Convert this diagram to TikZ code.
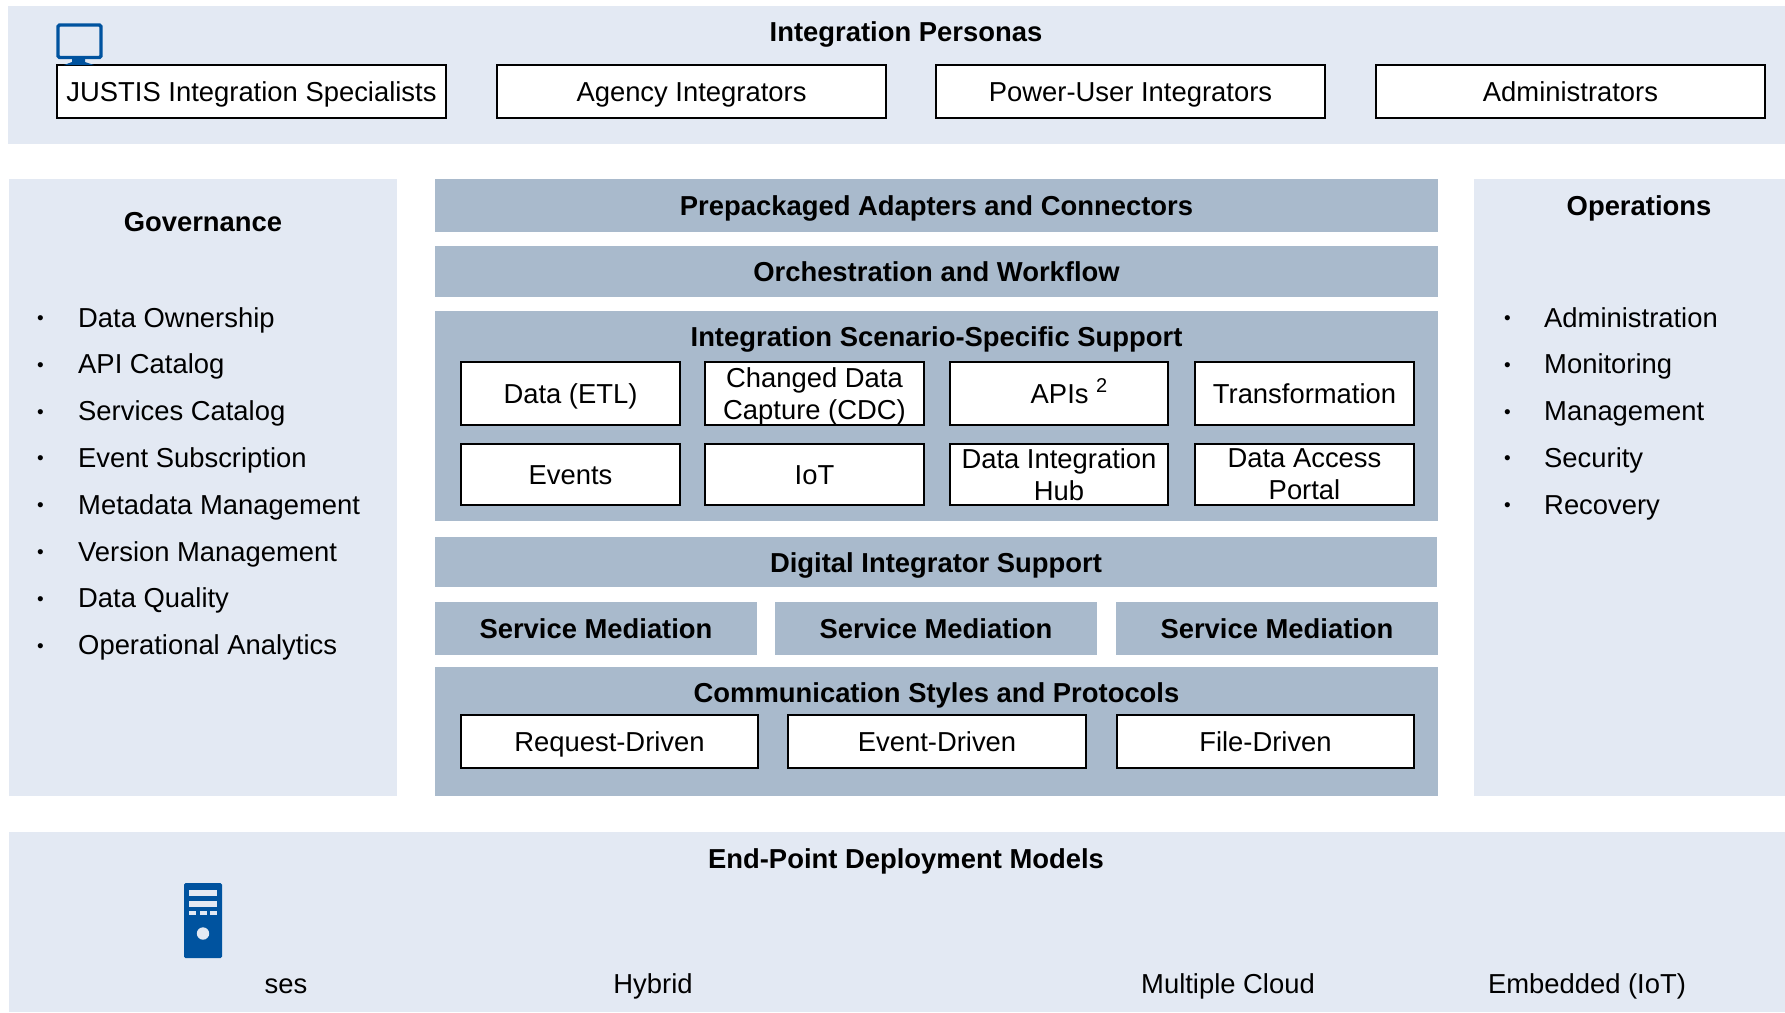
\documentclass[tikz,border=0pt]{standalone}
\usepackage{fontspec}
\setmainfont{Liberation Sans}
\definecolor{bandblue}{HTML}{E3E9F3}
\definecolor{layerblue}{HTML}{A9BACC}
\definecolor{iconblue}{HTML}{00539F}
\newcommand{\labelfont}{\fontsize{27.4}{32}\selectfont}
\tikzset{
  oneline/.style={text height=20pt,text depth=0pt},
  panel/.style={fill=bandblue,draw=none,anchor=north west,inner sep=0,outer sep=0},
  layer/.style={fill=layerblue,draw=none,anchor=north west,inner sep=0,outer sep=0,oneline,font=\labelfont\bfseries},
  itembox/.style={fill=white,draw=black,line width=1.1pt,anchor=north west,inner sep=0,outer sep=0,align=center,text depth=0pt,font=\labelfont},
  heading/.style={oneline,font=\labelfont\bfseries},
  listitem/.style={anchor=west,inner sep=0,oneline,font=\labelfont},
  dot/.style={inner sep=0,font=\fontsize{19}{22}\selectfont},
  plain/.style={oneline,font=\labelfont}
}
\begin{document}
\begin{tikzpicture}[x=1pt,y=-1pt]
  \useasboundingbox (0,0) rectangle (1785,1012);

  % Personas
  \node[panel,minimum width=1777pt,minimum height=138pt] (personas) at (8,6) {};
  \node[heading] (personastitle) at (906,31) {Integration Personas};
  \node[itembox,oneline,minimum width=389pt,minimum height=53pt] (specialists) at (57,65) {JUSTIS Integration Specialists};
  \node[itembox,oneline,minimum width=389pt,minimum height=53pt] (agency) at (497,65) {Agency Integrators};
  \node[itembox,oneline,minimum width=389pt,minimum height=53pt] (poweruser) at (936,65) {Power-User Integrators};
  \node[itembox,oneline,minimum width=389pt,minimum height=53pt] (admins) at (1376,65) {Administrators};

  % Monitor
  \fill[iconblue] (72,59) -- (85,59) -- (85,62) -- (94,65) -- (64,65) -- (72,62) -- cycle;
  \draw[iconblue,line width=3.4pt,rounded corners=1.5pt,fill=bandblue] (58,25) rectangle (101,57.5);

  % Side panels
  \node[panel,minimum width=388pt,minimum height=617pt] (governance) at (9,179) {};
  \node[heading] (governancetitle) at (203,221.5) {Governance};
  \foreach \i/\txt in {0/Data Ownership,1/API Catalog,2/Services Catalog,3/Event Subscription,4/Metadata Management,5/Version Management,6/Data Quality,7/Operational Analytics} {
    \node[dot] (govdot\i) at (40.5,320+46.8*\i) {•};
    \node[listitem] (gov\i) at (78,317+46.8*\i) {\txt};
  }
  \node[panel,minimum width=311pt,minimum height=617pt] (operations) at (1474,179) {};
  \node[heading] (operationstitle) at (1639,205) {Operations};
  \foreach \i/\txt in {0/Administration,1/Monitoring,2/Management,3/Security,4/Recovery} {
    \node[dot] (opsdot\i) at (1507.5,320+46.8*\i) {•};
    \node[listitem] (ops\i) at (1544,317+46.8*\i) {\txt};
  }

  % Center layers
  \node[layer,minimum width=1003pt,minimum height=53pt] (adapters) at (435,179) {Prepackaged Adapters and Connectors};
  \node[layer,minimum width=1003pt,minimum height=51pt] (workflow) at (435,246) {Orchestration and Workflow};
  \node[layer,minimum width=1003pt,minimum height=210pt] (scenario) at (435,311) {};
  \node[heading] (scenariotitle) at (936.5,336) {Integration Scenario-Specific Support};
  \node[itembox,oneline,minimum width=219pt,minimum height=63pt] (etl) at (461,362) {Data (ETL)};
  \node[itembox,minimum width=219pt,minimum height=63pt] (cdc) at (705,362) {Changed Data\\Capture (CDC)};
  \node[itembox,oneline,minimum width=218pt,minimum height=63pt] (apis) at (950,362) {};
  \node[plain,xshift=10pt] (apislabel) at (apis) {APIs \raisebox{11pt}{\fontsize{20}{22}\selectfont 2}};
  \node[itembox,oneline,minimum width=219pt,minimum height=63pt] (transform) at (1195,362) {Transformation};
  \node[itembox,oneline,minimum width=219pt,minimum height=61pt] (events) at (461,444) {Events};
  \node[itembox,oneline,minimum width=219pt,minimum height=61pt] (iot) at (705,444) {IoT};
  \node[itembox,minimum width=218pt,minimum height=61pt] (hub) at (950,444) {Data Integration\\Hub};
  \node[itembox,minimum width=219pt,minimum height=61pt] (portal) at (1195,444) {Data Access\\Portal};
  \node[layer,minimum width=1002pt,minimum height=50pt] (digital) at (435,537) {Digital Integrator Support};
  \node[layer,minimum width=322pt,minimum height=53pt] (mediationa) at (435,602) {Service Mediation};
  \node[layer,minimum width=322pt,minimum height=53pt] (mediationb) at (775,602) {Service Mediation};
  \node[layer,minimum width=322pt,minimum height=53pt] (mediationc) at (1116,602) {Service Mediation};
  \node[layer,minimum width=1003pt,minimum height=129pt] (styles) at (435,667) {};
  \node[heading] (stylestitle) at (936.5,692) {Communication Styles and Protocols};
  \node[itembox,oneline,minimum width=297pt,minimum height=53pt] (request) at (461,715) {Request-Driven};
  \node[itembox,oneline,minimum width=298pt,minimum height=53pt] (event) at (788,715) {Event-Driven};
  \node[itembox,oneline,minimum width=297pt,minimum height=53pt] (file) at (1117,715) {File-Driven};

  % Deployment
  \node[panel,minimum width=1777pt,minimum height=180pt] (deployment) at (9,832) {};
  \node[heading] (deploymenttitle) at (906,858) {End-Point Deployment Models};
  \node[plain] (premises) at (286,983) {ses};
  \node[plain] (hybrid) at (653,983) {Hybrid};
  \node[plain] (cloud) at (1228,983) {Multiple Cloud};
  \node[plain] (embedded) at (1587,983) {Embedded (IoT)};

  % Server
  \fill[iconblue,rounded corners=1.5pt] (184,883) rectangle (222,958);
  \fill[bandblue] (189,890) rectangle (217,896);
  \fill[bandblue] (189,901) rectangle (217,907);
  \foreach \x in {189,199.5,210} {
    \fill[bandblue] (\x,911) rectangle (\x+7,915);
  }
  \fill[bandblue] (203,933.5) circle (6.2);
\end{tikzpicture}
\end{document}
